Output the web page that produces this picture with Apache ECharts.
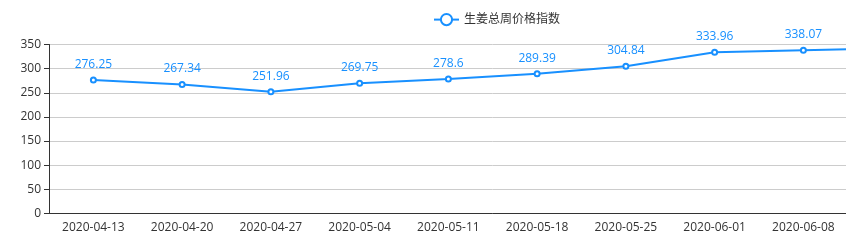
<!DOCTYPE html>
<html><head><meta charset="utf-8">
<script src="https://cdn.jsdelivr.net/npm/echarts@6/dist/echarts.min.js"></script>
<style>html,body{margin:0;padding:0;background:#fff;overflow:hidden;width:846px;height:243px}#c{width:980px;height:243px}</style>
</head><body><div id="c"></div>
<script>
const categories = ['2020-04-13','2020-04-20','2020-04-27','2020-05-04','2020-05-11','2020-05-18','2020-05-25','2020-06-01','2020-06-08','2020-06-15'];
const values = [276.25, 267.34, 251.96, 269.75, 278.6, 289.39, 304.84, 333.96, 338.07, 342];
const seriesName = '生姜总周价格指数';
const FONT = '"Open Sans","Noto Sans CJK SC",sans-serif';
const chart = echarts.init(document.getElementById('c'));
chart.setOption({
  animation: false,
  textStyle: {fontFamily: FONT},
  legend: {left: 428, top: 8, itemWidth: 25, itemHeight: 14, itemGap: 10,
    textStyle: {color: '#333', fontSize: 12, fontFamily: FONT},
    data: [seriesName]},
  grid: {left: 49, right: 43.5, top: 44.5, bottom: 29.5, containLabel: false},
  xAxis: {type: 'category', data: categories, boundaryGap: true,
    axisLine: {lineStyle: {color: '#333'}},
    axisTick: {lineStyle: {color: '#333'}},
    axisLabel: {color: '#333', fontSize: 12, margin: 8, interval: 0}},
  yAxis: {type: 'value', min: 0, max: 350, interval: 50,
    axisLine: {show: true, lineStyle: {color: '#333'}},
    axisTick: {show: true, lineStyle: {color: '#333'}},
    axisLabel: {color: '#333', fontSize: 12},
    splitLine: {lineStyle: {color: '#ccc'}}},
  series: [{name: seriesName, type: 'line', data: values,
    symbol: 'emptyCircle', symbolSize: 5,
    lineStyle: {color: '#1890ff', width: 2},
    itemStyle: {color: '#1890ff'},
    label: {show: true, position: 'top', color: '#1890ff', fontSize: 12, distance: 6}}]
});
</script></body></html>
